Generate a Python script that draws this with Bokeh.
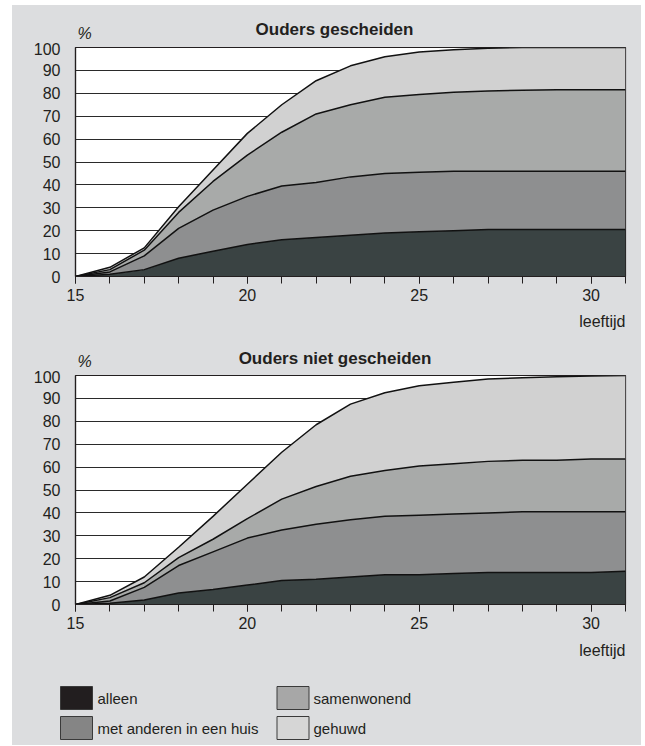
from bokeh.plotting import figure
from bokeh.models import FixedTicker, Range1d, ColumnDataSource
from bokeh.layouts import column, row
from bokeh.transform import stack
from bokeh.core.properties import value
from bokeh.embed import file_html
from bokeh.resources import INLINE

# ---------------- data ----------------
ages = list(range(15, 32))
x_major_ticks = [15, 20, 25, 30]
y_ticks = [0, 10, 20, 30, 40, 50, 60, 70, 80, 90, 100]

categories = ["alleen", "met anderen in een huis", "samenwonend", "gehuwd"]
keys = ["alleen", "met_anderen", "samenwonend", "gehuwd"]

panel_titles = ["Ouders gescheiden", "Ouders niet gescheiden"]
y_unit = "%"
x_label = "leeftijd"

# Ouders gescheiden (percent per category, stacked)
gescheiden_alleen = [0, 1, 3, 8, 11, 14, 16, 17, 18, 19, 19.5, 20, 20.5, 20.5, 20.5, 20.5, 20.5]
gescheiden_met_anderen = [0, 1, 6, 13, 18, 21, 23.5, 24, 25.5, 26, 26, 26, 25.5, 25.5, 25.5, 25.5, 25.5]
gescheiden_samenwonend = [0, 1, 2.5, 7, 12.5, 18, 23.5, 30, 31.5, 33.3, 34, 34.5, 35, 35.3, 35.5, 35.5, 35.5]
gescheiden_gehuwd = [0, 1, 1, 2.5, 5, 9.5, 12, 14.5, 17, 17.7, 18.5, 18.5, 18.7, 18.7, 18.5, 18.5, 18.5]

# Ouders niet gescheiden
niet_alleen = [0, 0.5, 2, 5, 6.5, 8.5, 10.5, 11, 12, 13, 13, 13.5, 14, 14, 14, 14, 14.5]
niet_met_anderen = [0, 1, 5.5, 12, 16.5, 20.5, 22, 24, 25, 25.5, 26, 26, 26, 26.5, 26.5, 26.5, 26]
niet_samenwonend = [0, 1.5, 2, 3.5, 5.5, 8.5, 13.5, 16.5, 19, 20, 21.5, 22, 22.5, 22.5, 22.5, 23, 23]
niet_gehuwd = [0, 1, 2.5, 4.5, 10, 15, 20.5, 27, 31.5, 34, 35, 35.5, 36, 36, 36.5, 36.3, 36.5]

# ---------------- style ----------------
BG = "#dcdddf"
TEXT = "#231f20"
FONT = "Liberation Sans"
chart_colors = ["#3a4343", "#8e8f90", "#a8aaa9", "#d1d1d1"]
legend_colors = ["#221e1f", "#858585", "#a7a7a7", "#d6d6d6"]

W = 629          # panel width (page x 12 .. 641)
BL, BR = 63, 16  # frame page x 75 .. 625


def base_fig(height, **kw):
    f = figure(width=W, height=height, toolbar_location=None, output_backend="svg",
               title=None, **kw)
    f.border_fill_color = BG
    return f


def text_fig(height, y0, x0=75, x1=625, bl=BL, br=BR):
    # a strip whose data units are page pixels (y grows downwards)
    f = base_fig(height, x_range=Range1d(x0, x1), y_range=Range1d(y0 + height, y0),
                 min_border_left=bl, min_border_right=br, min_border_top=0,
                 min_border_bottom=0, x_axis_location=None, y_axis_location=None)
    f.background_fill_color = BG
    f.outline_line_color = None
    f.grid.visible = False
    return f


def add_text(f, xs, ys, texts, align, size, style="normal"):
    f.text(x=xs, y=ys, text=texts, text_align=align, text_baseline="middle",
           text_font=value(FONT), text_font_size=value(size), text_font_style=style,
           text_color=TEXT)


def make_chart(series, height, top, bottom):
    data = dict(age=ages)
    for k, v in zip(keys, series):
        data[k] = v
    src = ColumnDataSource(data)
    p = base_fig(height, x_range=Range1d(15, 31), y_range=Range1d(0, 100),
                 min_border_left=BL, min_border_right=BR,
                 min_border_top=top, min_border_bottom=bottom)
    p.background_fill_color = "white"
    p.outline_line_color = TEXT
    p.outline_line_width = 1.2

    p.varea_stack(stackers=keys, x="age", color=chart_colors, source=src)
    for i in range(len(keys)):
        p.line(x="age", y=stack(*keys[:i + 1]), source=src,
               line_color="#111111", line_width=1.5)

    xt = FixedTicker(ticks=x_major_ticks, minor_ticks=ages)
    xa = p.xaxis[0]
    xa.ticker = xt
    xa.major_tick_out = 7
    xa.major_tick_in = 0
    xa.minor_tick_out = 7
    xa.minor_tick_in = 0
    xa.major_tick_line_color = TEXT
    xa.minor_tick_line_color = TEXT
    xa.axis_line_color = TEXT
    xa.major_label_standoff = 5
    xa.major_label_text_font = FONT
    xa.major_label_text_font_size = "16px"
    xa.major_label_text_color = TEXT

    yt = FixedTicker(ticks=y_ticks, minor_ticks=[])
    ya = p.yaxis[0]
    ya.ticker = yt
    ya.major_tick_out = 0
    ya.major_tick_in = 0
    ya.minor_tick_line_color = None
    ya.axis_line_color = TEXT
    ya.axis_line_width = 1.2
    ya.major_label_standoff = 15
    ya.major_label_text_font = FONT
    ya.major_label_text_font_size = "16px"
    ya.major_label_text_color = TEXT

    p.xgrid.visible = False
    p.ygrid.ticker = yt
    p.ygrid.grid_line_color = "#2a2a2a"
    p.ygrid.grid_line_width = 1
    return p


# header of chart 1 (page y 5 .. 42)
h1 = text_fig(37, 5)
add_text(h1, [334], [29], [panel_titles[0]], "center", "17px", "bold")
add_text(h1, [77], [32.5], [y_unit], "left", "16px", "italic")

# chart 1 (page y 42 .. 310, frame 47 .. 276)
p1 = make_chart([gescheiden_alleen, gescheiden_met_anderen, gescheiden_samenwonend, gescheiden_gehuwd],
                268, 5, 34)

# strip between charts (page y 310 .. 370)
mid = text_fig(60, 310)
add_text(mid, [625], [320.5], [x_label], "right", "16px")
add_text(mid, [334.5], [358], [panel_titles[1]], "center", "17px", "bold")
add_text(mid, [77], [361], [y_unit], "left", "16px", "italic")

# chart 2 (page y 370 .. 638, frame 375 .. 604)
p2 = make_chart([niet_alleen, niet_met_anderen, niet_samenwonend, niet_gehuwd], 268, 5, 34)

# bottom strip: x label of chart 2 + legend (page y 638 .. 745)
bot = text_fig(107, 638, x0=12, x1=641, bl=0, br=0)
add_text(bot, [625], [650], [x_label], "right", "16px")

legend_sw_x = [76, 76, 292.5, 292.5]
legend_row_y = [697.5, 727.5, 697.5, 727.5]
legend_txt_x = [97, 97, 313, 313]
bot.rect(x=legend_sw_x, y=legend_row_y, width=32, height=23,
         fill_color=legend_colors, line_color="#3a3a3a", line_width=1)
add_text(bot, legend_txt_x, legend_row_y, categories, "left", "15px")

layout = column(h1, p1, mid, p2, row(bot), spacing=0, margin=(5, 4, 0, 12),
                styles={"background-color": BG})
open("out.html", "w").write(file_html(layout, INLINE))
